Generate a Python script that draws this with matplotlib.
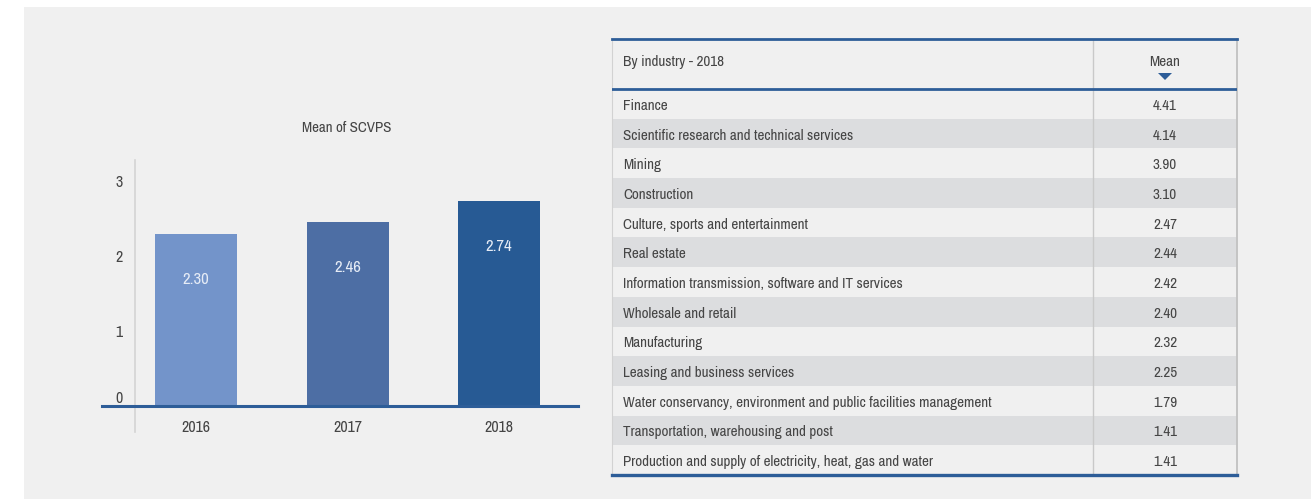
import numpy as np
import matplotlib.pyplot as plt
from matplotlib.patches import Rectangle, Polygon
from matplotlib import font_manager

# prefer a narrow face when one is installed
narrow = [f.name for f in font_manager.fontManager.ttflist
          if 'Narrow' in f.name or 'Condensed' in f.name]
plt.rcParams['font.family'] = narrow[:1] + ['DejaVu Sans']
plt.rcParams['font.stretch'] = 'condensed'

# Mean of SCVPS by year
years = ['2016', '2017', '2018']
means = [2.30, 2.46, 2.74]
bar_colors = ['#7394ca', '#4d6ea4', '#275a94']

# Mean by industry, 2018
industries = [
    'Finance',
    'Scientific research and technical services',
    'Mining',
    'Construction',
    'Culture, sports and entertainment',
    'Real estate',
    'Information transmission, software and IT services',
    'Wholesale and retail',
    'Manufacturing',
    'Leasing and business services',
    'Water conservancy, environment and public facilities management',
    'Transportation, warehousing and post',
    'Production and supply of electricity, heat, gas and water',
]
industry_means = [4.41, 4.14, 3.90, 3.10, 2.47, 2.44, 2.42, 2.40, 2.32, 2.25, 1.79, 1.41, 1.41]

W, H = 1315, 499
BG = '#f0f0f0'
TXT = '#454545'
BLUE = '#2d5d98'

fig = plt.figure(figsize=(W / 100, H / 100), dpi=100)
fig.patch.set_facecolor('white')


def px_rect(x0, y0, x1, y1):
    return [x0 / W, 1 - y1 / H, (x1 - x0) / W, (y1 - y0) / H]


# grey panel behind everything
fig.patches.append(Rectangle((24 / W, 0), (1311 - 24) / W, 1 - 7 / H,
                             transform=fig.transFigure, facecolor=BG,
                             edgecolor='none', zorder=-5))

# ---- bar chart ----
ax = fig.add_axes(px_rect(102, 160, 578, 406))
ax.set_facecolor('none')
x = np.arange(len(years))
ax.bar(x, means, width=0.54, color=bar_colors, zorder=2)
ax.set_xlim(-0.62, 2.52)
ax.set_ylim(0, 246 / 75)
for s in ['top', 'right', 'left']:
    ax.spines[s].set_visible(False)
ax.spines['bottom'].set_color(BLUE)
ax.spines['bottom'].set_linewidth(2.2)
ax.spines['bottom'].set_zorder(3)
ax.set_xticks(x)
ax.set_xticklabels(years)
ax.set_yticks([0, 1, 2, 3])
ax.set_yticklabels(['0', '1', '2', '3'])
ax.tick_params(axis='x', length=0, pad=10, labelsize=11.5, labelcolor=TXT)
ax.tick_params(axis='y', length=0, pad=-15, labelsize=11.5, labelcolor=TXT)
ax.get_yticklabels()[0].set_va('bottom')
# light vertical axis line
ax.plot([-0.40, -0.40], [-26 / 75, 246 / 75], color='#d4d4d4', lw=1.2,
        clip_on=False, zorder=1)
for xi, v in zip(x, means):
    ax.annotate(f'{v:.2f}', (xi, v), xytext=(0, -33), textcoords='offset points',
                ha='center', va='center', color='#e6ecf6', fontsize=12)
fig.text(347 / W, 1 - 128 / H, 'Mean of SCVPS', ha='center', va='center',
         color=TXT, fontsize=10.8)

# ---- industry table ----
tx0, tx1, ty0, ty1 = 612, 1237, 39, 475
header_h = 50
row_h = (ty1 - ty0 - header_h) / len(industries)
col_split = (1093 - tx0) / (tx1 - tx0)
text_dy = 2
tab = fig.add_axes(px_rect(tx0, ty0, tx1, ty1))
tab.set_xlim(0, 1)
tab.set_ylim(ty1 - ty0, 0)
tab.axis('off')

for i, (name, v) in enumerate(zip(industries, industry_means)):
    top = header_h + i * row_h
    if i % 2 == 1:
        tab.add_patch(Rectangle((0, top), 1, row_h, facecolor='#dcdddf',
                                edgecolor='none', zorder=1))
    tab.text(11 / (tx1 - tx0), top + row_h / 2 + text_dy, name, ha='left',
             va='center', color=TXT, fontsize=10.9)
    tab.text((col_split + 1) / 2, top + row_h / 2 + text_dy, f'{v:.2f}',
             ha='center', va='center', color=TXT, fontsize=10.9)

tab.text(11 / (tx1 - tx0), 21 + text_dy, 'By industry - 2018', ha='left',
         va='center', color=TXT, fontsize=10.9)
tab.text((col_split + 1) / 2, 21 + text_dy, 'Mean', ha='center', va='center',
         color=TXT, fontsize=10.9)
cx = (col_split + 1) / 2
tab.add_patch(Polygon([[cx - 0.0112, 34], [cx + 0.0112, 34], [cx, 41]],
                      closed=True, facecolor=BLUE, edgecolor='none', zorder=3))

# grid lines
tab.plot([col_split, col_split], [0, ty1 - ty0], color='#c9c9c9', lw=1, zorder=2)
tab.plot([0, 0], [0, ty1 - ty0], color='#d2d2d2', lw=0.8, zorder=2, clip_on=False)
tab.plot([1, 1], [0, ty1 - ty0], color='#c4c4c4', lw=1.4, zorder=2, clip_on=False)
tab.plot([0, 1], [0, 0], color=BLUE, lw=2.0, zorder=4, clip_on=False)
tab.plot([0, 1], [header_h, header_h], color=BLUE, lw=2.0, zorder=4)
tab.plot([0, 1], [ty1 - ty0, ty1 - ty0], color=BLUE, lw=2.4, zorder=4,
         clip_on=False)

fig.savefig('out.png', dpi=100, facecolor=fig.get_facecolor())
